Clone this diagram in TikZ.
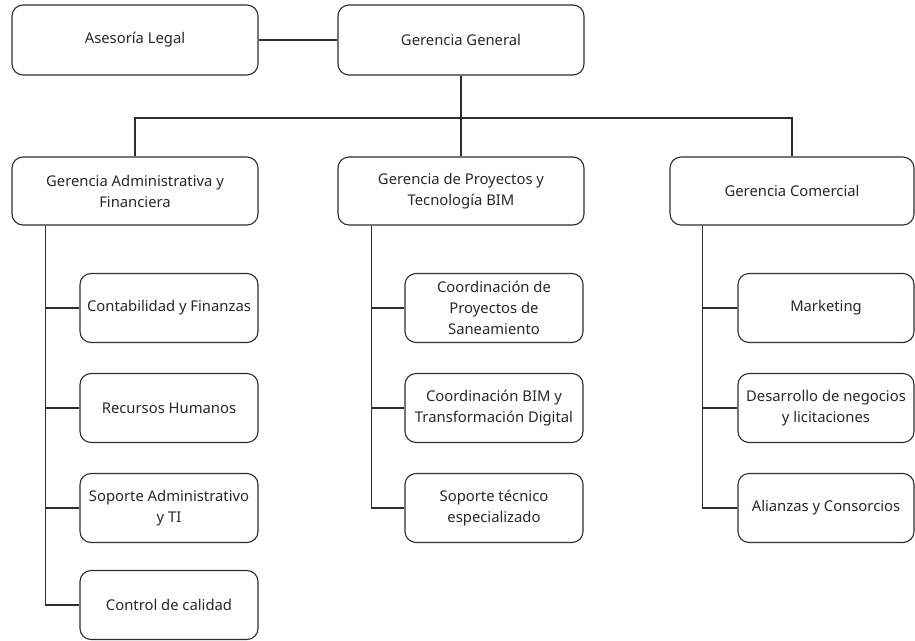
\documentclass[tikz,border=0pt]{standalone}
\usepackage{fontspec}
\setmainfont{Noto Sans}
\usepackage{tikz}
\usetikzlibrary{positioning,calc}
\definecolor{orgline}{RGB}{45,45,45}
\definecolor{orgtext}{RGB}{40,40,40}

\tikzset{
  orgbox/.style={draw=orgline, line width=1.1pt, rounded corners=11pt,
    fill=white, align=center, inner sep=0pt, text=orgtext,
    font=\fontsize{14.8}{21}\selectfont},
  headbox/.style={orgbox, minimum width=246pt, minimum height=70pt},
  subbox/.style={orgbox, minimum width=178pt, minimum height=69pt},
  link/.style={draw=orgline, line width=1.1pt}
}

\begin{document}
\begin{tikzpicture}[x=1pt,y=-1pt]
  \useasboundingbox (0,0) rectangle (915,640);

  %% ===== TOP LEVEL =====
  \node[headbox] (legal)   at (135,40) {Asesoría Legal};
  \node[headbox] (general) at (461,40) {Gerencia General};

  %% ===== SECOND LEVEL =====
  \node[headbox, minimum height=68pt] (admin) at (135,191)
    {Gerencia Administrativa y\\Financiera};
  \node[headbox, minimum height=68pt] (proy) at (461,191)
    {Gerencia de Proyectos y\\Tecnología BIM};
  \node[headbox, minimum height=68pt, minimum width=244pt] (comer) at (792,191)
    {Gerencia Comercial};

  % Administrative units
  \node[subbox] (conta)  at (169,308) {Contabilidad y Finanzas};
  \node[subbox] (rrhh)   at (169,408) {Recursos Humanos};
  \node[subbox] (soporte) at (169,508) {Soporte Administrativo\\y TI};
  \node[subbox] (calidad) at (169,605) {Control de calidad};

  % Project units
  \node[subbox] (sanea)  at (494,308) {Coordinación de\\Proyectos de\\Saneamiento};
  \node[subbox] (bim)    at (494,408) {Coordinación BIM y\\Transformación Digital};
  \node[subbox] (tecnico) at (494,508) {Soporte técnico\\especializado};

  % Commercial units
  \node[subbox, minimum width=176pt] (mkt)     at (826,308) {Marketing};
  \node[subbox, minimum width=176pt] (negocio) at (826,408)
    {Desarrollo de negocios\\y licitaciones};
  \node[subbox, minimum width=176pt] (alianza) at (826,508)
    {Alianzas y Consorcios};

  %% ===== CONNECTORS =====
  \draw[link] (legal) -- (general);
  \coordinate (bus) at (461,118);
  \draw[link] (general.south) -- (proy.north);
  \draw[link] (admin.north) |- (bus) -| (comer.north);

  \foreach \u in {conta,rrhh,soporte,calidad}
    \draw[link] ($(admin.south west)+(34,0)$) |- (\u.west);
  \foreach \u in {sanea,bim,tecnico}
    \draw[link] ($(proy.south west)+(34,0)$) |- (\u.west);
  \foreach \u in {mkt,negocio,alianza}
    \draw[link] ($(comer.south west)+(33,0)$) |- (\u.west);

\end{tikzpicture}
\end{document}
